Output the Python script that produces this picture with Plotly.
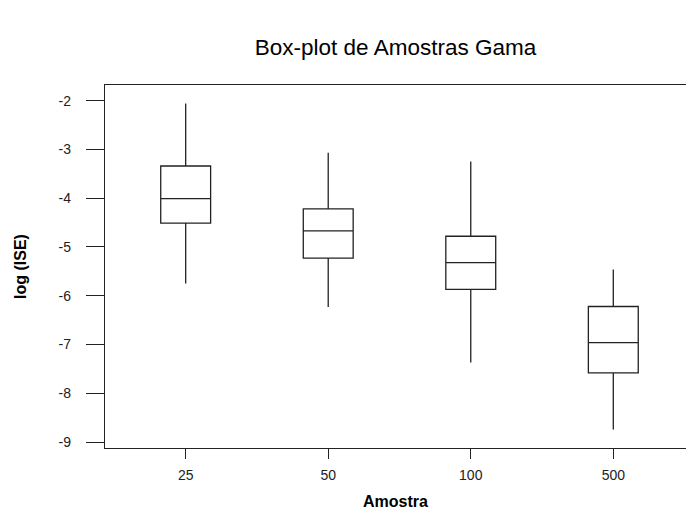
import plotly.graph_objects as go

categories = ["25", "50", "100", "500"]
lower_whisker = [-5.75, -6.23, -7.37, -8.74]
q1_values = [-4.51, -5.23, -5.87, -7.58]
medians = [-4.01, -4.67, -5.32, -6.96]
q3_values = [-3.34, -4.22, -4.78, -6.22]
upper_whisker = [-2.06, -3.07, -3.25, -5.46]
y_ticks = [-2, -3, -4, -5, -6, -7, -8, -9]

FONT = "Liberation Sans, Arial, sans-serif"

fig = go.Figure()
fig.add_trace(go.Box(
    x=categories,
    q1=q1_values,
    median=medians,
    q3=q3_values,
    lowerfence=lower_whisker,
    upperfence=upper_whisker,
    boxpoints=False,
    line=dict(color="#222222", width=1.3),
    fillcolor="rgba(255,255,255,0)",
    whiskerwidth=0,
    showlegend=False,
    hoverinfo="skip",
))

fig.update_layout(
    width=686, height=521,
    margin=dict(l=105, r=0, t=85, b=73, pad=0, autoexpand=False),
    paper_bgcolor="white", plot_bgcolor="white",
    boxgap=0.5,
    title=dict(text="Box-plot de Amostras Gama", x=0.5, xanchor="center",
               xref="paper", y=1 - 47 / 521, yref="container", yanchor="middle",
               font=dict(family=FONT, size=22.5, color="black")),
    font=dict(family=FONT, color="#222222"),
)

fig.update_xaxes(
    type="category",
    range=[-0.566, 3.51],
    automargin=False,
    showline=True, linecolor="#222222", linewidth=1.3, mirror=True,
    ticks="outside", ticklen=10, tickwidth=1, tickcolor="#222222",
    tickfont=dict(family=FONT, size=14, color="#222222"),
    ticklabelstandoff=4,
    showgrid=False, zeroline=False,
    title=dict(text="<b>Amostra</b>", font=dict(family=FONT, size=16, color="black"), standoff=13),
)
fig.update_yaxes(
    range=[-9.12, -1.68],
    automargin=False,
    tickvals=y_ticks,
    ticktext=[str(v) for v in y_ticks],
    showline=True, linecolor="#222222", linewidth=1.3, mirror=False,
    ticks="outside", ticklen=18, tickwidth=1, tickcolor="#222222",
    tickfont=dict(family=FONT, size=14, color="#222222"),
    ticklabelstandoff=12,
    showgrid=False, zeroline=False,
    title=dict(text="<b>log (ISE)</b>", font=dict(family=FONT, size=16, color="black"), standoff=27),
)

fig.write_html(
    "out.html",
    config={"displayModeBar": False},
    post_script="document.body.style.margin='0';document.body.style.overflow='hidden';",
)
